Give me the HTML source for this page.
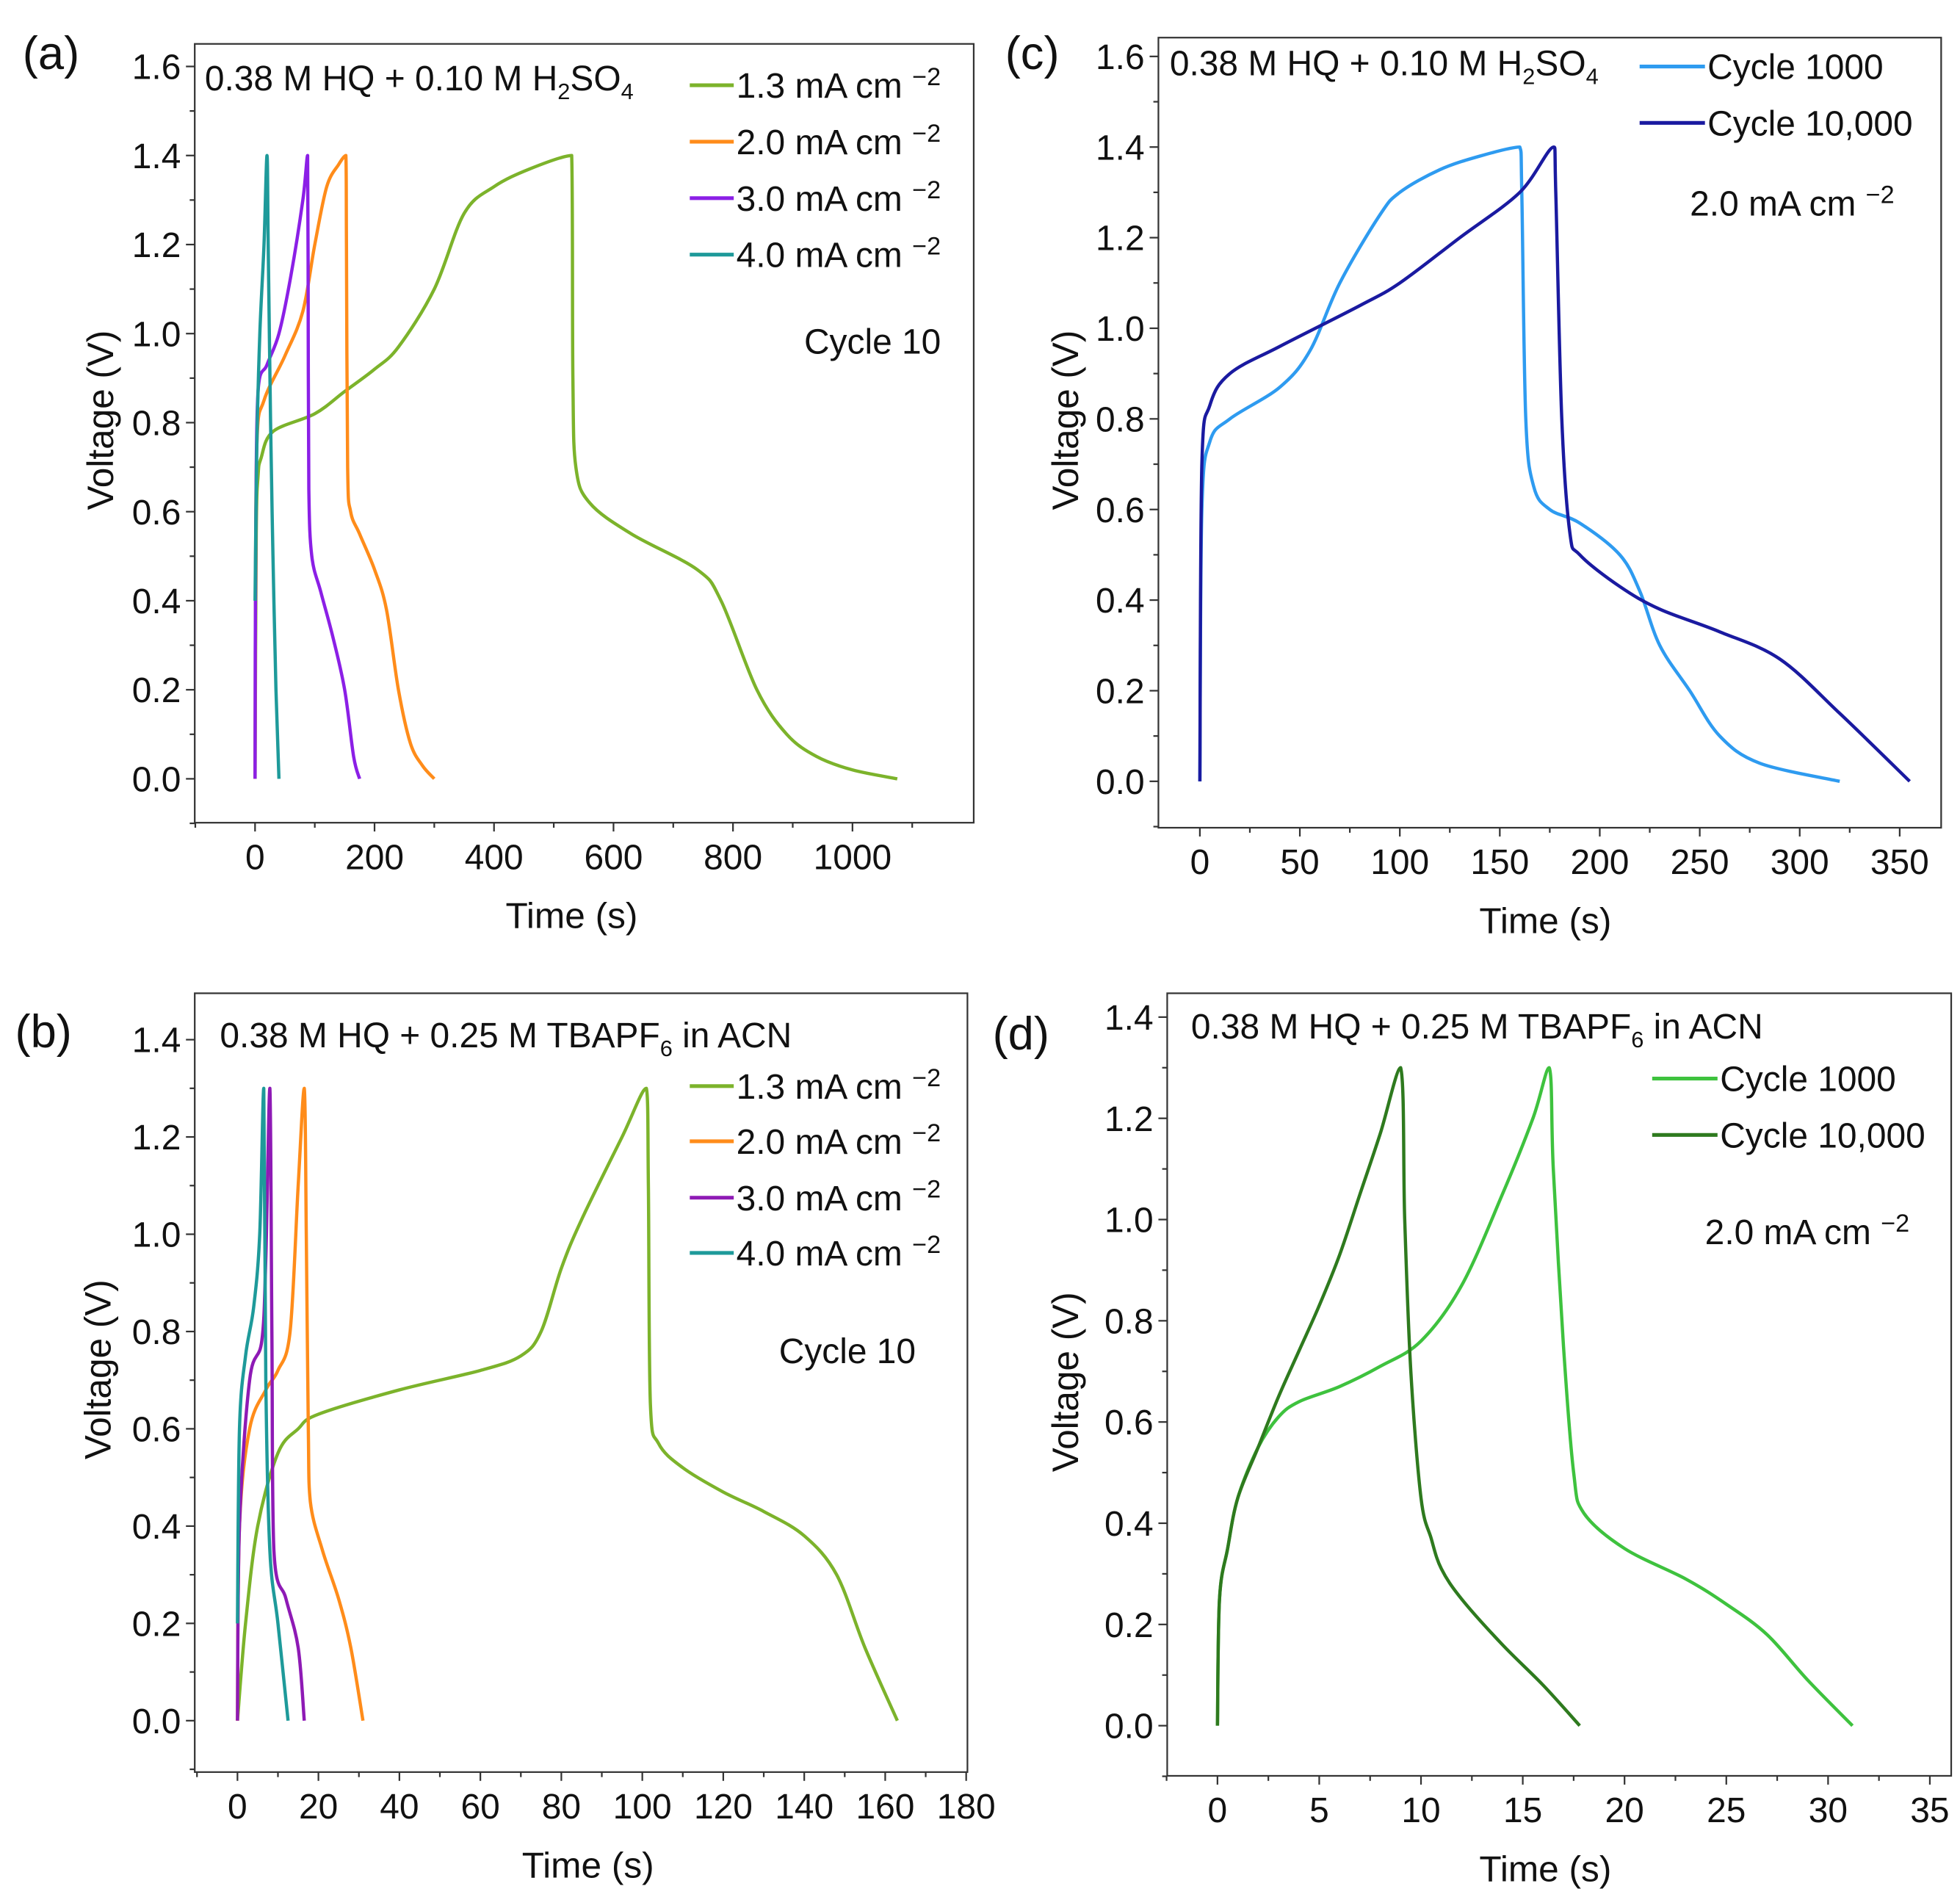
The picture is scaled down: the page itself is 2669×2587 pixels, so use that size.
<!DOCTYPE html>
<html><head><meta charset="utf-8"><style>
html,body{margin:0;padding:0;background:#fff;}
svg{display:block;}
text{font-family:"Liberation Sans",sans-serif;fill:#111;}
</style></head><body>
<svg id="fig" xmlns="http://www.w3.org/2000/svg" width="2669" height="2587" viewBox="0 0 1560 1515" preserveAspectRatio="none">
<rect width="1560" height="1515" fill="#fff"/>
</svg>
<script>
// ---- Panel (a) data ----
const aT13=[0,2,5,10,30,100,150,200,240,300,350,400,460,530,532,537,560,630,740,780,840,890,940,1000,1075];
const aV13=[0,0.55,0.68,0.72,0.78,0.82,0.87,0.92,0.97,1.1,1.27,1.33,1.37,1.40,0.9,0.7,0.62,0.55,0.47,0.4,0.2,0.1,0.05,0.02,0];
const aT20=[0,0.5,3,15,50,80,100,120,140,152,153,155,160,175,200,220,240,260,280,300];
const aV20=[0,0.3,0.75,0.85,0.95,1.05,1.2,1.33,1.38,1.40,1.2,0.7,0.6,0.55,0.47,0.38,0.2,0.08,0.03,0];
const aT30=[0,1,5,20,40,60,80,88,89,90,95,110,130,150,165,175];
const aV30=[0,0.5,0.87,0.93,1.0,1.13,1.3,1.40,1.0,0.65,0.5,0.42,0.32,0.2,0.05,0];
const aT40=[0,3,8,15,20,22,26,30,35,40];
const aV40=[0.4,0.75,1.0,1.2,1.4,1.2,0.8,0.5,0.2,0];
// ---- Panel (b) data ----
const bT13=[0,2,5,10,15,20,40,60,70,75,80,85,95,101,101.5,102,104,110,120,130,140,148,155,163];
const bV13=[0,0.2,0.4,0.55,0.6,0.63,0.68,0.72,0.75,0.8,0.93,1.03,1.2,1.3,1.1,0.65,0.57,0.52,0.47,0.43,0.38,0.3,0.15,0];
const bT20=[0,0.5,3,7,10,13,15,16.5,17,17.5,18,21,25,28,31];
const bV20=[0,0.4,0.6,0.68,0.72,0.8,1.1,1.3,1.0,0.6,0.45,0.35,0.25,0.15,0];
const bT30=[0,0.5,3,6,7,8,8.5,9,12,15,16.5];
const bV30=[0,0.4,0.7,0.78,0.95,1.3,0.8,0.35,0.25,0.15,0];
const bT40=[0,0.5,2,4,5.5,6.5,7,8,10,12.5];
const bV40=[0.2,0.6,0.75,0.85,1.0,1.3,0.7,0.35,0.2,0];
// ---- Panel (c) data ----
const cT1k=[0,1,5,15,40,55,70,90,100,120,140,160,161,163,167,175,190,210,220,230,245,260,280,320];
const cV1k=[0,0.6,0.75,0.8,0.87,0.95,1.1,1.25,1.3,1.35,1.38,1.40,1.3,0.8,0.65,0.6,0.57,0.5,0.42,0.3,0.2,0.1,0.04,0];
const cT10k=[0,1,5,15,40,80,100,130,160,177,178,181,185,190,210,230,260,290,320,355];
const cV10k=[0,0.7,0.83,0.9,0.96,1.05,1.1,1.2,1.3,1.4,1.3,0.8,0.55,0.5,0.43,0.38,0.33,0.27,0.15,0];
// ---- Panel (d) data ----
const dT1k=[0,0.1,0.5,1,2,3,4,6,8,10,12,14,15.5,16.3,16.5,17,17.5,18,20,23,25,27,29,31.2];
const dV1k=[0,0.25,0.35,0.45,0.55,0.61,0.64,0.67,0.71,0.76,0.87,1.05,1.2,1.3,1.1,0.75,0.5,0.42,0.35,0.29,0.24,0.18,0.09,0];
const dT10k=[0,0.1,0.5,1,2,3,4,5,6,7,8,9,9.2,9.5,10,10.5,11,12,14,16,17.8];
const dV10k=[0,0.25,0.35,0.45,0.55,0.65,0.74,0.83,0.93,1.05,1.17,1.3,1.0,0.7,0.45,0.37,0.31,0.25,0.16,0.08,0];
// tick labels
const aXTicks=[0,200,400,600,800,1000];
const bXTicks=[0,20,40,60,80,100,120,140,160,180];
const cXTicks=[0,50,100,150,200,250,300,350];
const dXTicks=[0,5,10,15,20,25,30,35];
const aYTicks=[0,0.2,0.4,0.6,0.8,1.0,1.2,1.4,1.6];
const bYTicks=[0,0.2,0.4,0.6,0.8,1.0,1.2,1.4];

const NS="http://www.w3.org/2000/svg";
const svg=document.getElementById('fig');
function mk(tag,attrs,parent){const e=document.createElementNS(NS,tag);for(const k in attrs)e.setAttribute(k,attrs[k]);(parent||svg).appendChild(e);return e;}
function clamp(v,a,b){const lo=Math.min(a,b),hi=Math.max(a,b);return Math.max(lo,Math.min(hi,v));}
function smooth(P){
  let d='M'+P[0][0].toFixed(2)+','+P[0][1].toFixed(2);
  for(let i=0;i<P.length-1;i++){
    const p0=P[Math.max(0,i-1)],p1=P[i],p2=P[i+1],p3=P[Math.min(P.length-1,i+2)];
    let c1x=p1[0]+(p2[0]-p0[0])/6,c1y=p1[1]+(p2[1]-p0[1])/6;
    let c2x=p2[0]-(p3[0]-p1[0])/6,c2y=p2[1]-(p3[1]-p1[1])/6;
    c1x=clamp(c1x,p1[0],p2[0]);c2x=clamp(c2x,p1[0],p2[0]);
    c1y=clamp(c1y,p1[1],p2[1]);c2y=clamp(c2y,p1[1],p2[1]);
    d+='C'+c1x.toFixed(2)+','+c1y.toFixed(2)+' '+c2x.toFixed(2)+','+c2y.toFixed(2)+' '+p2[0].toFixed(2)+','+p2[1].toFixed(2);
  }
  return d;
}

function panel(p){
  const g=mk('g',{});
  
  
  const sx=t=>p.x0+(t-p.t0)*(p.x1-p.x0)/(p.t1-p.t0);
  const sy=v=>p.y0+(v-0)*(p.y1-p.y0)/(p.v1-0);
  const fr=mk('rect',{x:p.L,y:p.T,width:p.R-p.L,height:p.B-p.T,fill:'none',stroke:'#333','stroke-width':1.3},g);
  
  
  const xstep=p.xt[1]-p.xt[0];
  for(let t=p.xt[0]-xstep;t<=p.xt[p.xt.length-1]+xstep/2+1e-9;t+=xstep/2){
    const X=sx(t); if(X<p.L-0.5||X>p.R+0.5) continue;
    const major=Math.abs(Math.round(t/xstep)*xstep-t)<1e-9;
    mk('line',{x1:X,x2:X,y1:p.B,y2:p.B+(major?7:4),stroke:'#333','stroke-width':1.3},g);
  }
  p.xt.forEach(t=>{const tx=mk('text',{x:sx(t),y:p.B+37,'font-size':28,'text-anchor':'middle'},g);tx.textContent=t;
    
    });
  for(let v=-0.2;v<=p.yt[p.yt.length-1]+0.15;v+=0.1){
    const Y=sy(v); if(Y>p.B+0.5||Y<p.T-0.5) continue;
    const major=Math.abs(Math.round(v*10)%2)===0;
    mk('line',{x1:p.L,x2:p.L-(major?7:4),y1:Y,y2:Y,stroke:'#333','stroke-width':1.3},g);
  }
  p.yt.forEach(v=>{const tx=mk('text',{x:p.L-11,y:sy(v)+10,'font-size':28,'text-anchor':'end'},g);tx.textContent=v.toFixed(1);
    
    });
  const xl=mk('text',{x:p.xlx,y:p.B+84,'font-size':29,'text-anchor':'middle'},g);xl.textContent='Time (s)';
  
  
  const yl=mk('text',{x:0,y:0,'font-size':29,'text-anchor':'middle',transform:`translate(${p.ylx},${p.yly}) rotate(-90)`},g);yl.textContent='Voltage (V)';
  
  
  const pl=mk('text',{x:p.plx,y:p.ply,'font-size':37},g);pl.textContent=p.label;
  
  
  p.series.forEach(s=>{
    const pts=s.t.map((t,i)=>[sx(t),sy(s.v[i])]);
    const path=mk('path',{d:smooth(pts),fill:'none',stroke:s.c,'stroke-width':2.6,'stroke-linejoin':'round'},g);
    
    
  });
  p.legend.forEach(l=>{
    const ln=mk('line',{x1:l.x1,x2:l.x2,y1:l.y,y2:l.y,stroke:l.c,'stroke-width':3},g);
    
    
    const tx=mk('text',{x:l.x2+2,y:l.y+10,'font-size':28},g);
    tx.innerHTML=l.html;
    
    
  });
  p.notes.forEach(n=>{const tx=mk('text',{x:n.x,y:n.y,'font-size':28},g);tx.innerHTML=n.html;
    
    });
}
const ma=v=>`${v} mA cm <tspan dy="-10" font-size="20">−2</tspan>`;
const h2so4='0.38 M HQ + 0.10 M H<tspan dy="7" font-size="18">2</tspan><tspan dy="-7">SO</tspan><tspan dy="7" font-size="18">4</tspan>';
const tba='0.38 M HQ + 0.25 M TBAPF<tspan dy="7" font-size="18">6</tspan><tspan dy="-7"> in ACN</tspan>';
panel({id:'a',label:'(a)',plx:18,ply:55,L:155,R:775,T:35,B:656,x0:203,x1:678.5,t0:0,t1:1000,y0:621,y1:53,v1:1.6,
  xt:aXTicks,yt:aYTicks,xlx:455,ylx:90,yly:335,
  series:[{n:'1.3',t:aT13,v:aV13,c:'#7CB32B'},{n:'2.0',t:aT20,v:aV20,c:'#FF8C1A'},{n:'3.0',t:aT30,v:aV30,c:'#8B1FE6'},{n:'4.0',t:aT40,v:aV40,c:'#1E9A9A'}],
  legend:[{x1:549,x2:584,y:68,c:'#7CB32B',html:ma('1.3')},{x1:549,x2:584,y:113,c:'#FF8C1A',html:ma('2.0')},{x1:549,x2:584,y:158,c:'#8B1FE6',html:ma('3.0')},{x1:549,x2:584,y:203,c:'#1E9A9A',html:ma('4.0')}],
  notes:[{x:163,y:72,html:h2so4,name:'electrolyte-note'},{x:640,y:282,html:'Cycle 10',name:'cycle-note'}]});
panel({id:'c',label:'(c)',plx:800,ply:55,L:922,R:1545,T:30,B:660,x0:955,x1:1512,t0:0,t1:350,y0:623,y1:45,v1:1.6,
  xt:cXTicks,yt:aYTicks,xlx:1230,ylx:858,yly:335,
  series:[{n:'cycle-1000',t:cT1k,v:cV1k,c:'#2E9BF0'},{n:'cycle-10000',t:cT10k,v:cV10k,c:'#1A1AA0'}],
  legend:[{x1:1305,x2:1357,y:53,c:'#2E9BF0',html:'Cycle 1000'},{x1:1305,x2:1357,y:98,c:'#1A1AA0',html:'Cycle 10,000'}],
  notes:[{x:931,y:60,html:h2so4,name:'electrolyte-note'},{x:1345,y:172,html:ma('2.0'),name:'current-note'}]});
panel({id:'b',label:'(b)',plx:12,ply:835,L:155,R:770,T:792,B:1413,x0:189,x1:769,t0:0,t1:180,y0:1372,y1:829,v1:1.4,
  xt:bXTicks,yt:bYTicks,xlx:468,ylx:88,yly:1092,
  series:[{n:'1.3',t:bT13,v:bV13,c:'#7CB32B'},{n:'2.0',t:bT20,v:bV20,c:'#FF8C1A'},{n:'3.0',t:bT30,v:bV30,c:'#8E1AB5'},{n:'4.0',t:bT40,v:bV40,c:'#1E9A9A'}],
  legend:[{x1:549,x2:584,y:866,c:'#7CB32B',html:ma('1.3')},{x1:549,x2:584,y:910,c:'#FF8C1A',html:ma('2.0')},{x1:549,x2:584,y:955,c:'#8E1AB5',html:ma('3.0')},{x1:549,x2:584,y:999,c:'#1E9A9A',html:ma('4.0')}],
  notes:[{x:175,y:835,html:tba,name:'electrolyte-note'},{x:620,y:1087,html:'Cycle 10',name:'cycle-note'}]});
panel({id:'d',label:'(d)',plx:790,ply:837,L:929,R:1553,T:792,B:1416,x0:969,x1:1536,t0:0,t1:35,y0:1376,y1:811,v1:1.4,
  xt:dXTicks,yt:bYTicks,xlx:1230,ylx:858,yly:1102,
  series:[{n:'cycle-1000',t:dT1k,v:dV1k,c:'#3EC23E'},{n:'cycle-10000',t:dT10k,v:dV10k,c:'#2E7A1E'}],
  legend:[{x1:1315,x2:1367,y:860,c:'#3EC23E',html:'Cycle 1000'},{x1:1315,x2:1367,y:905,c:'#2E7A1E',html:'Cycle 10,000'}],
  notes:[{x:948,y:828,html:tba,name:'electrolyte-note'},{x:1357,y:992,html:ma('2.0'),name:'current-note'}]});
</script>
</body></html>
